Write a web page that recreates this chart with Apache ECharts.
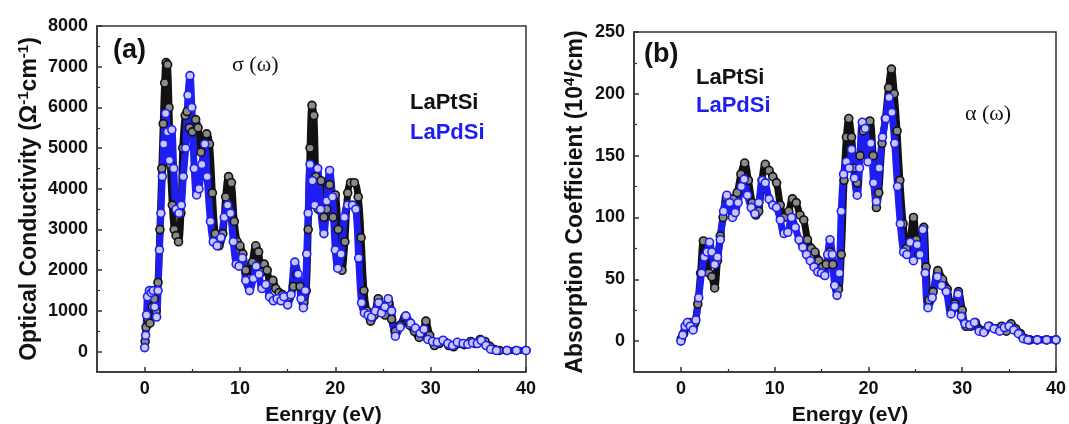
<!DOCTYPE html>
<html>
<head>
<meta charset="utf-8">
<title>Optical conductivity and absorption</title>
<script src="https://cdn.jsdelivr.net/npm/echarts@6/dist/echarts.min.js"></script>
<style>
  html, body { margin: 0; padding: 0; background: #fff; }
  #chart { width: 1069px; height: 424px; }
</style>
</head>
<body>
<div id="chart"></div>
<script>
// (a) optical conductivity, [energy eV, sigma]
const sigmaPtSi = [[0.05, 250], [0.15, 600], [0.35, 800], [0.55, 700], [0.8, 1100], [1.0, 1300], [1.2, 1000], [1.4, 1700], [1.6, 3000], [1.8, 4500], [1.95, 5600], [2.1, 6600], [2.25, 7100], [2.4, 7050], [2.55, 6000], [2.7, 4600], [2.9, 3600], [3.1, 3000], [3.3, 2850], [3.55, 2700], [3.8, 3400], [4.0, 5000], [4.25, 5800], [4.45, 5900], [4.7, 5500], [5.0, 5400], [5.35, 5700], [5.6, 5500], [5.9, 4900], [6.2, 5100], [6.5, 5350], [6.8, 5100], [7.1, 3900], [7.4, 2900], [7.8, 2600], [8.2, 2900], [8.5, 3800], [8.8, 4300], [9.1, 4150], [9.4, 3200], [9.7, 2700], [10.0, 2600], [10.3, 2400], [10.6, 2000], [11.0, 1800], [11.3, 2200], [11.65, 2600], [11.95, 2450], [12.25, 1950], [12.55, 2150], [12.85, 2000], [13.15, 1700], [13.45, 1750], [13.75, 1550], [14.1, 1450], [14.45, 1400], [14.8, 1350], [15.2, 1350], [15.6, 1600], [15.95, 1900], [16.3, 1600], [16.7, 1200], [16.95, 1500], [17.15, 3000], [17.35, 5000], [17.55, 6050], [17.75, 5800], [17.95, 4300], [18.2, 3500], [18.5, 4200], [18.8, 3300], [19.1, 3500], [19.4, 4100], [19.75, 3300], [20.0, 3850], [20.3, 3000], [20.7, 2000], [21.0, 2700], [21.3, 3900], [21.6, 4150], [22.0, 4150], [22.4, 3800], [22.7, 2800], [23.0, 1500], [23.3, 1000], [23.7, 750], [24.1, 900], [24.5, 1300], [24.9, 1000], [25.2, 900], [25.6, 1200], [25.9, 800], [26.3, 500], [26.8, 650], [27.3, 850], [27.8, 650], [28.3, 500], [28.8, 350], [29.2, 500], [29.5, 750], [29.9, 400], [30.4, 150], [30.9, 200], [31.4, 250], [31.9, 150], [32.4, 120], [32.9, 200], [33.5, 170], [34.2, 250], [34.7, 200], [35.2, 300], [35.7, 250], [36.2, 130], [36.7, 50], [37.2, 30], [38, 30], [39, 30], [40, 30]];
const sigmaPdSi = [[0.0, 100], [0.1, 400], [0.2, 900], [0.3, 1350], [0.5, 1500], [0.7, 1450], [0.9, 1500], [1.05, 1100], [1.25, 850], [1.4, 1500], [1.55, 2500], [1.7, 3400], [1.85, 4300], [2.0, 5100], [2.2, 5850], [2.4, 5400], [2.6, 4700], [2.85, 5450], [3.05, 4500], [3.3, 3500], [3.6, 3400], [3.85, 3600], [4.05, 4300], [4.3, 5000], [4.55, 6300], [4.75, 6780], [4.95, 6000], [5.2, 4500], [5.45, 3850], [5.7, 4000], [6.0, 4600], [6.3, 5100], [6.55, 4300], [6.9, 3200], [7.2, 2700], [7.6, 2600], [8.0, 2800], [8.35, 3300], [8.7, 3600], [9.0, 3400], [9.3, 2700], [9.6, 2150], [9.9, 2100], [10.25, 2300], [10.6, 1750], [11.0, 1500], [11.4, 1800], [11.7, 2100], [12.0, 1900], [12.3, 1550], [12.7, 1650], [13.1, 1350], [13.5, 1250], [13.9, 1300], [14.3, 1250], [14.6, 1350], [15.0, 1150], [15.35, 1400], [15.75, 2200], [16.1, 1900], [16.4, 1300], [16.65, 1080], [16.85, 1500], [17.0, 2400], [17.15, 3400], [17.35, 4600], [17.6, 4200], [17.85, 3600], [18.15, 4500], [18.45, 3500], [18.8, 2900], [19.1, 3700], [19.4, 4450], [19.7, 3800], [20.0, 2500], [20.25, 2050], [20.6, 2400], [20.95, 3300], [21.3, 3600], [21.8, 3600], [22.15, 3500], [22.45, 2300], [22.75, 1200], [23.05, 950], [23.45, 900], [23.8, 850], [24.2, 1000], [24.55, 1200], [24.85, 950], [25.2, 1100], [25.55, 1300], [25.9, 1000], [26.3, 380], [26.8, 600], [27.4, 880], [27.9, 700], [28.4, 580], [28.9, 450], [29.3, 550], [29.7, 300], [30.2, 250], [30.7, 230], [31.3, 280], [31.8, 200], [32.3, 150], [32.8, 230], [33.4, 200], [33.9, 180], [34.4, 220], [34.9, 200], [35.3, 280], [35.8, 150], [36.3, 60], [36.9, 30], [38, 30], [39, 30], [40, 30]];

// (b) absorption coefficient, [energy eV, alpha]
const alphaPtSi = [[0.05, 2], [0.3, 6], [0.6, 12], [0.9, 15], [1.2, 10], [1.5, 15], [1.8, 30], [2.1, 55], [2.4, 81], [2.7, 72], [3.0, 55], [3.3, 52], [3.6, 43], [3.9, 65], [4.2, 85], [4.5, 100], [4.85, 116], [5.2, 113], [5.6, 115], [6.0, 120], [6.4, 135], [6.8, 144], [7.2, 130], [7.6, 112], [8.0, 102], [8.3, 105], [8.65, 130], [9.0, 143], [9.4, 138], [9.8, 133], [10.2, 128], [10.6, 110], [11.0, 100], [11.5, 105], [11.9, 115], [12.3, 112], [12.7, 102], [13.1, 98], [13.5, 82], [13.9, 75], [14.3, 72], [14.7, 65], [15.1, 60], [15.5, 62], [15.9, 72], [16.2, 62], [16.5, 45], [16.8, 42], [17.1, 70], [17.4, 130], [17.65, 165], [17.9, 180], [18.2, 165], [18.5, 140], [18.8, 128], [19.1, 150], [19.45, 170], [19.8, 172], [20.15, 178], [20.5, 150], [20.85, 108], [21.1, 120], [21.45, 160], [21.8, 180], [22.15, 205], [22.45, 220], [22.75, 200], [23.05, 170], [23.35, 130], [23.7, 95], [24.05, 75], [24.4, 80], [24.8, 100], [25.1, 82], [25.4, 70], [25.9, 92], [26.15, 60], [26.45, 33], [26.9, 40], [27.4, 57], [27.9, 50], [28.4, 42], [28.9, 25], [29.2, 30], [29.6, 40], [30.0, 25], [30.4, 12], [30.9, 12], [31.4, 15], [31.9, 9], [32.4, 8], [32.9, 12], [33.5, 10], [34.2, 12], [34.7, 8], [35.2, 14], [35.7, 10], [36.2, 6], [36.7, 2], [37.2, 1], [38, 1], [39, 1], [40, 1]];
const alphaPdSi = [[0.0, 0], [0.2, 5], [0.45, 12], [0.7, 15], [1.0, 12], [1.3, 9], [1.6, 17], [1.9, 35], [2.2, 55], [2.5, 68], [2.8, 72], [3.05, 80], [3.3, 72], [3.6, 62], [3.9, 68], [4.2, 82], [4.55, 105], [4.9, 118], [5.2, 112], [5.5, 100], [5.8, 104], [6.1, 112], [6.45, 125], [6.75, 131], [7.1, 118], [7.5, 108], [7.9, 103], [8.3, 112], [8.7, 130], [9.0, 128], [9.4, 115], [9.8, 110], [10.2, 108], [10.6, 98], [11.0, 87], [11.4, 88], [11.8, 100], [12.2, 92], [12.6, 82], [13.0, 76], [13.4, 70], [13.8, 65], [14.2, 60], [14.6, 56], [15.0, 55], [15.35, 53], [15.65, 70], [15.9, 82], [16.15, 70], [16.4, 45], [16.65, 37], [16.9, 55], [17.1, 105], [17.35, 135], [17.65, 145], [17.95, 140], [18.2, 155], [18.5, 132], [18.8, 118], [19.05, 140], [19.35, 177], [19.65, 172], [19.95, 145], [20.25, 160], [20.55, 128], [20.85, 113], [21.15, 140], [21.5, 165], [21.85, 180], [22.2, 197], [22.5, 185], [22.8, 160], [23.1, 125], [23.4, 95], [23.75, 72], [24.1, 70], [24.45, 80], [24.8, 65], [25.2, 78], [25.5, 70], [25.8, 90], [26.05, 55], [26.35, 27], [26.8, 35], [27.35, 52], [27.8, 45], [28.3, 40], [28.8, 22], [29.2, 28], [29.55, 38], [29.9, 20], [30.3, 14], [30.8, 13], [31.3, 15], [31.8, 8], [32.3, 7], [32.8, 12], [33.4, 10], [34.0, 8], [34.5, 11], [35.0, 12], [35.5, 9], [36.0, 6], [36.5, 2], [37.0, 1], [38, 1], [39, 1], [40, 1]];

// tick labels
const energyTicks = [0, 10, 20, 30, 40];
const energyMinor = [5, 15, 25, 35];
const sigmaTicks = [0, 1000, 2000, 3000, 4000, 5000, 6000, 7000, 8000];
const sigmaMinor = [500, 1500, 2500, 3500, 4500, 5500, 6500, 7500];
const alphaTicks = [0, 50, 100, 150, 200, 250];
const alphaMinor = [25, 75, 125, 175, 225];

const FONT = '"Liberation Sans", Arial, sans-serif';
const SERIF = '"Liberation Serif", "DejaVu Serif", serif';
const BLACK = '#111111';
const BLUE = '#1e1ef2';

var chart = echarts.init(document.getElementById('chart'), null, { renderer: 'canvas' });

function plain(v) { return String(v); }

function xAxes(gridIndex, name, shift) {
  return [
    {
      type: 'value', gridIndex: gridIndex, min: -5, max: 40,
      name: name, nameLocation: 'middle', nameGap: 33,
      nameTextStyle: { fontFamily: FONT, fontWeight: 'bold', fontSize: 21, color: '#111', padding: [0, 0, 0, shift] },
      axisLine: { show: true, onZero: false, lineStyle: { color: '#333', width: 1.5 } },
      axisTick: { show: true, inside: true, length: 5, customValues: energyTicks, lineStyle: { color: '#333', width: 1.5 } },
      axisLabel: { customValues: energyTicks, formatter: plain, margin: 8, fontFamily: FONT, fontWeight: 'bold', fontSize: 18, color: '#111' },
      splitLine: { show: false }
    },
    {
      type: 'value', gridIndex: gridIndex, min: -5, max: 40, position: 'bottom',
      axisLine: { show: false, onZero: false },
      axisTick: { show: true, inside: true, length: 3, customValues: energyMinor, lineStyle: { color: '#333', width: 1.2 } },
      axisLabel: { show: false },
      splitLine: { show: false }
    }
  ];
}

function yAxes(gridIndex, min, max, ticks, minor, name, gap) {
  return [
    {
      type: 'value', gridIndex: gridIndex, min: min, max: max,
      name: name, nameLocation: 'middle', nameGap: gap, nameRotate: 90,
      nameTextStyle: {
        fontFamily: FONT, fontWeight: 'bold', fontSize: 23, color: '#111', lineHeight: 28,
        rich: {
          s: { fontFamily: FONT, fontWeight: 'bold', fontSize: 15, color: '#111', verticalAlign: 'top', lineHeight: 28 }
        }
      },
      axisLine: { show: true, onZero: false, lineStyle: { color: '#333', width: 1.5 } },
      axisTick: { show: true, inside: true, length: 5, customValues: ticks, lineStyle: { color: '#333', width: 1.5 } },
      axisLabel: { customValues: ticks, formatter: plain, margin: 9, fontFamily: FONT, fontWeight: 'bold', fontSize: 18, color: '#111' },
      splitLine: { show: false }
    },
    {
      type: 'value', gridIndex: gridIndex, min: min, max: max, position: 'left',
      axisLine: { show: false, onZero: false },
      axisTick: { show: true, inside: true, length: 3, customValues: minor, lineStyle: { color: '#333', width: 1.2 } },
      axisLabel: { show: false },
      splitLine: { show: false }
    }
  ];
}

function curve(name, data, xi, yi, color, fill) {
  return {
    name: name, type: 'line', xAxisIndex: xi, yAxisIndex: yi, data: data,
    smooth: 0.35,
    symbol: 'circle', symbolSize: 8, showAllSymbol: true,
    lineStyle: { color: color, width: 7 },
    itemStyle: { color: fill, borderColor: color, borderWidth: 1.6 },
    emphasis: { disabled: true },
    z: 3
  };
}

function label(x, y, text, size, color, family, weight) {
  return {
    type: 'text', left: x, top: y, z: 10,
    style: { text: text, fontSize: size, fill: color, fontFamily: family || FONT, fontWeight: weight || 'bold' }
  };
}

var option = {
  backgroundColor: '#ffffff',
  animation: false,
  grid: [
    { left: 97, top: 26, right: 543, bottom: 52, show: true, borderColor: '#333', borderWidth: 1.5, outerBoundsMode: 'none' },
    { left: 634, top: 32, right: 13, bottom: 52, show: true, borderColor: '#333', borderWidth: 1.5, outerBoundsMode: 'none' }
  ],
  xAxis: xAxes(0, 'Eenrgy (eV)', 24).concat(xAxes(1, 'Energy (eV)', 10)),
  yAxis: yAxes(0, -500, 8000, sigmaTicks, sigmaMinor, 'Optical Conductivity (Ω{s|-1}cm{s|-1})', 53)
    .concat(yAxes(1, -25, 250, alphaTicks, alphaMinor, 'Absorption Coefficient (10{s|4}/cm)', 44)),
  series: [
    curve('LaPtSi', sigmaPtSi, 0, 0, BLACK, '#8a8a8a'),
    curve('LaPdSi', sigmaPdSi, 0, 0, BLUE, '#c9c9ff'),
    curve('LaPtSi', alphaPtSi, 2, 2, BLACK, '#8a8a8a'),
    curve('LaPdSi', alphaPdSi, 2, 2, BLUE, '#c9c9ff')
  ],
  graphic: [
    label(113, 37, '(a)', 27, '#111'),
    label(232, 54, 'σ (ω)', 22, '#111', SERIF, 'normal'),
    label(410, 92, 'LaPtSi', 22, '#111'),
    label(410, 122, 'LaPdSi', 22, BLUE),
    label(644, 41, '(b)', 27, '#111'),
    label(696, 67, 'LaPtSi', 22, '#111'),
    label(696, 95, 'LaPdSi', 22, BLUE),
    label(965, 103, 'α (ω)', 22, '#111', SERIF, 'normal')
  ]
};

chart.setOption(option);
</script>
</body>
</html>
